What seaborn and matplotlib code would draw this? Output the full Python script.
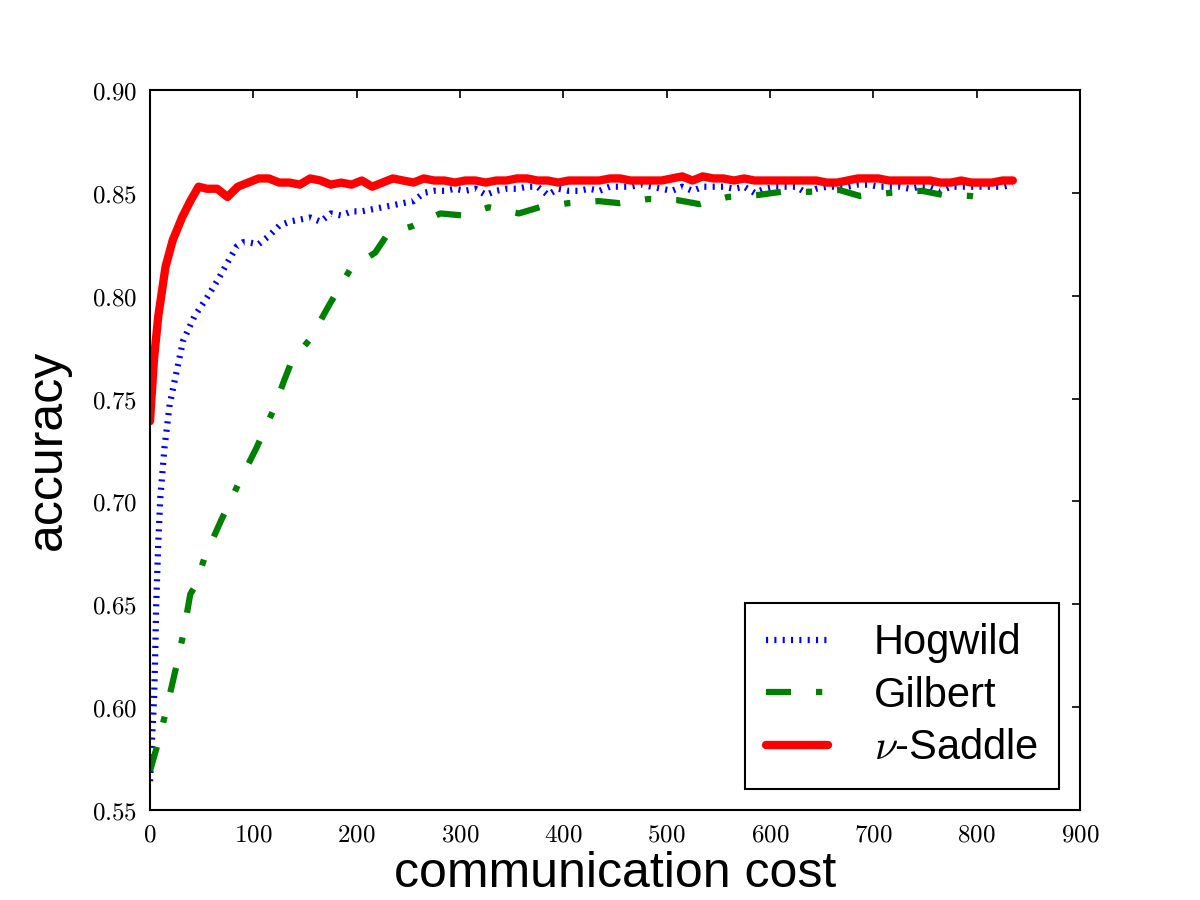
import numpy as np
import pandas as pd
import matplotlib
matplotlib.use('Agg')
import matplotlib.pyplot as plt
from matplotlib.ticker import FuncFormatter, MultipleLocator
import seaborn as sns

# Hogwild (blue dotted)
hog_x = [0, 2, 4, 5, 6, 8, 10, 14, 19, 24, 32, 43, 55, 66, 76, 84, 90] + list(range(95, 836, 10))
hog_y = [0.564, 0.585, 0.605, 0.625, 0.650, 0.680, 0.702, 0.726, 0.747, 0.759, 0.778, 0.790,
         0.799, 0.808, 0.817, 0.824, 0.826,
         0.826, 0.825, 0.829, 0.834, 0.836, 0.837, 0.838, 0.836, 0.840, 0.839,
         0.841, 0.841, 0.842, 0.843, 0.844, 0.845, 0.846, 0.850, 0.851, 0.851,
         0.852, 0.851, 0.852, 0.849, 0.851, 0.852, 0.852, 0.853, 0.853, 0.849,
         0.852, 0.851, 0.851, 0.852, 0.851, 0.853, 0.853, 0.853, 0.854, 0.853,
         0.852, 0.851, 0.853, 0.851, 0.853, 0.853, 0.853, 0.852, 0.853, 0.850,
         0.852, 0.853, 0.853, 0.853, 0.850, 0.852, 0.853, 0.853, 0.853, 0.854,
         0.854, 0.853, 0.853, 0.853, 0.852, 0.853, 0.853, 0.851, 0.853, 0.853,
         0.853, 0.853, 0.853, 0.853, 0.854]

# Gilbert (green dash-dot)
gil_x = [0, 8, 15, 26, 32, 39, 44, 53, 69, 86, 103, 119, 130, 137, 155, 174, 194, 218, 230,
         255, 281, 303, 328, 357, 377, 405, 434, 454, 482, 510, 532, 559, 589, 611, 637,
         667, 687, 716, 747, 767, 794, 800]
gil_y = [0.569, 0.583, 0.597, 0.621, 0.635, 0.655, 0.659, 0.673, 0.691, 0.709, 0.726, 0.744,
         0.759, 0.768, 0.779, 0.796, 0.813, 0.821, 0.830, 0.834, 0.840, 0.839, 0.843, 0.840,
         0.843, 0.845, 0.846, 0.845, 0.847, 0.8465, 0.8445, 0.848, 0.849, 0.8505, 0.8505,
         0.8514, 0.8485, 0.850, 0.851, 0.849, 0.8485, 0.848]

# nu-Saddle (red solid)
sad_x = [0, 4, 8, 15, 22, 31, 39, 47] + list(range(55, 836, 10))
sad_y = [0.739, 0.770, 0.790, 0.814, 0.827, 0.838, 0.846, 0.853,
         0.852, 0.852, 0.848, 0.853, 0.855, 0.857, 0.857, 0.855, 0.855, 0.854,
         0.857, 0.856, 0.854, 0.855, 0.854, 0.856, 0.853, 0.855, 0.857, 0.856,
         0.855, 0.857, 0.856, 0.856, 0.855, 0.856, 0.856, 0.855, 0.856, 0.856,
         0.857, 0.857, 0.856, 0.856, 0.855, 0.856, 0.856, 0.856, 0.856, 0.857,
         0.857, 0.856, 0.856, 0.856, 0.856, 0.857, 0.858, 0.856, 0.858, 0.857,
         0.857, 0.856, 0.857, 0.856, 0.856, 0.856, 0.856, 0.856, 0.856, 0.856,
         0.855, 0.855, 0.856, 0.857, 0.857, 0.857, 0.856, 0.856, 0.856, 0.856,
         0.856, 0.855, 0.855, 0.856, 0.855, 0.855, 0.855, 0.856, 0.856]

x_ticks = [0, 100, 200, 300, 400, 500, 600, 700, 800, 900]
y_ticks = [0.55, 0.60, 0.65, 0.70, 0.75, 0.80, 0.85, 0.90]

sns.set_style('white')
plt.rcParams['font.family'] = ['Liberation Sans', 'DejaVu Sans']
plt.rcParams['mathtext.fontset'] = 'cm'
plt.rcParams['lines.scale_dashes'] = False
plt.rcParams['xtick.direction'] = 'in'
plt.rcParams['ytick.direction'] = 'in'
plt.rcParams['text.color'] = 'black'
plt.rcParams['axes.labelcolor'] = 'black'
plt.rcParams['xtick.color'] = 'black'
plt.rcParams['ytick.color'] = 'black'

fig = plt.figure(figsize=(8, 6), dpi=150)
ax = fig.add_axes([0.125, 0.1, 0.775, 0.8])

hog = pd.DataFrame({'cost': hog_x, 'acc': hog_y})
gil = pd.DataFrame({'cost': gil_x, 'acc': gil_y})
sad = pd.DataFrame({'cost': sad_x, 'acc': sad_y})

sns.lineplot(data=hog, x='cost', y='acc', ax=ax, color='blue', lw=3,
             linestyle=(0, (1, 3)), label='Hogwild', estimator=None, errorbar=None)
sns.lineplot(data=gil, x='cost', y='acc', ax=ax, color='green', lw=3,
             linestyle=(0, (12, 12, 3, 12)), label='Gilbert', estimator=None, errorbar=None)
sns.lineplot(data=sad, x='cost', y='acc', ax=ax, color='red', lw=4,
             linestyle='-', label=r'$\nu$-Saddle', estimator=None, errorbar=None)

ax.set_xlim(0, 900)
ax.set_ylim(0.55, 0.90)
ax.set_xticks(x_ticks)
ax.set_yticks(y_ticks)
ax.xaxis.set_major_formatter(FuncFormatter(lambda v, p: r'$%d$' % round(v)))
ax.yaxis.set_major_formatter(FuncFormatter(lambda v, p: r'$%.2f$' % v))
ax.tick_params(axis='both', which='major', direction='in', length=4, width=0.8,
               labelsize=12, top=True, right=True, pad=6, color='black',
               labelcolor='black')

for sp in ax.spines.values():
    sp.set_visible(True)
    sp.set_color('black')
    sp.set_linewidth(1.0)

ax.set_xlabel('communication cost', fontsize=24, labelpad=2, color='black')
ax.set_ylabel('accuracy', fontsize=24, labelpad=10, color='black')

leg = ax.legend(loc='lower right', fontsize=20, frameon=True, fancybox=False,
                handlelength=1.5, handletextpad=1.1, borderpad=0.5, labelspacing=0.3,
                borderaxespad=0.5)
leg.get_frame().set_edgecolor('black')
leg.get_frame().set_linewidth(1.0)
leg.get_frame().set_alpha(1.0)
for t in leg.get_texts():
    t.set_color('black')

fig.savefig('out.png', dpi=150)
